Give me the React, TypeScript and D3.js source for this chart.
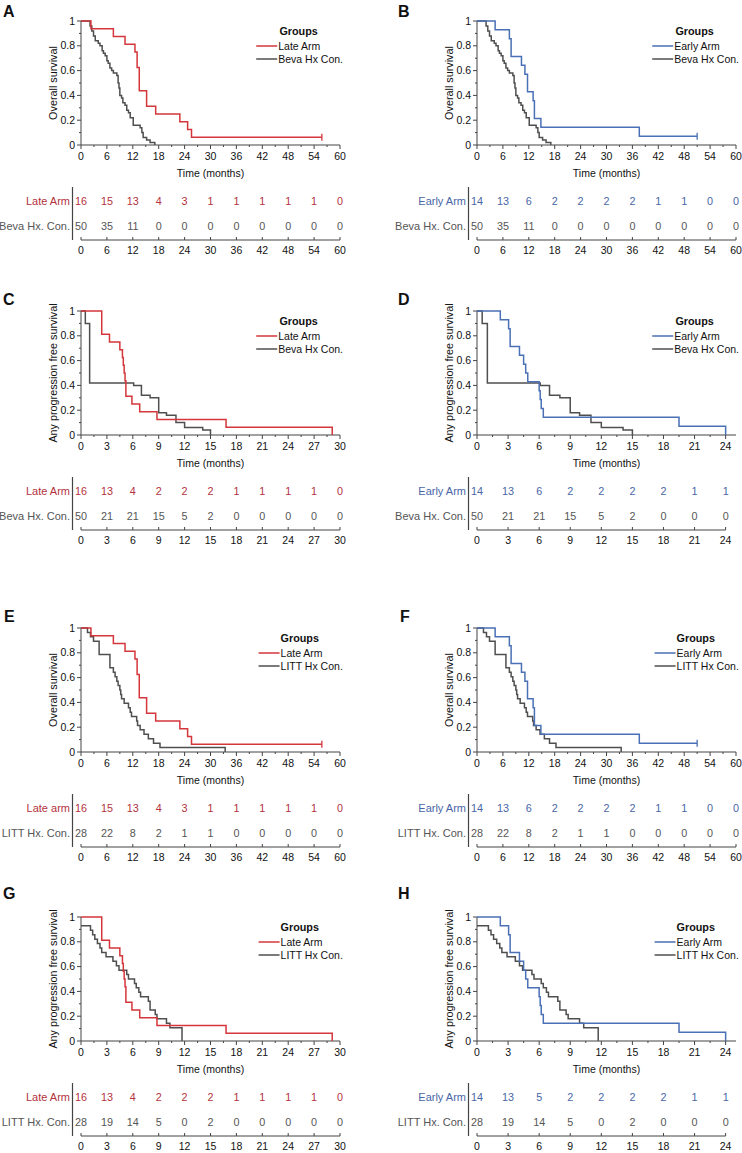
import React from 'react';
import * as d3 from 'd3';

// ---------- axis ticks ----------
const osTicks = [0, 6, 12, 18, 24, 30, 36, 42, 48, 54, 60];
const pfs30Ticks = [0, 3, 6, 9, 12, 15, 18, 21, 24, 27, 30];
const pfs24Ticks = [0, 3, 6, 9, 12, 15, 18, 21, 24];
const survTicks = [0, 0.2, 0.4, 0.6, 0.8, 1];

// ---------- Kaplan-Meier step points ----------
const lateOsTime = [0, 2.3, 7.5, 10.2, 12.5, 13.0, 13.5, 15.2, 17.3, 22.9, 24.7, 25.6, 55.8];
const lateOsSurv = [1, 0.9375, 0.875, 0.8125, 0.75, 0.625, 0.4375, 0.3125, 0.25, 0.1875, 0.125, 0.0625, 0.0625];

const earlyOsTime = [0, 4.2, 7.5, 7.9, 10.3, 11.1, 11.7, 13.0, 13.3, 14.8, 37.6, 51.0];
const earlyOsSurv = [1, 0.929, 0.857, 0.714, 0.643, 0.571, 0.429, 0.357, 0.214, 0.143, 0.071, 0.071];

const bevaOsTime = [0, 2.1, 2.5, 2.9, 3.3, 4.0, 4.4, 4.9, 5.2, 5.6, 6.0, 6.3, 6.7, 7.1, 7.5, 8.3, 8.6, 8.8, 9.0, 9.4, 9.7, 10.2, 10.6, 11.0, 11.4, 12.1, 13.7, 14.1, 14.4, 15.2, 16.0, 17.1];
const bevaOsSurv = [1, 0.96, 0.92, 0.88, 0.84, 0.82, 0.8, 0.76, 0.74, 0.72, 0.68, 0.66, 0.62, 0.6, 0.58, 0.56, 0.5, 0.46, 0.4, 0.38, 0.34, 0.32, 0.28, 0.26, 0.22, 0.16, 0.14, 0.1, 0.06, 0.04, 0.02, 0];

const littOsTime = [0, 1.5, 2.2, 2.9, 4.2, 6.7, 7.5, 7.9, 8.3, 8.6, 9.0, 9.2, 9.4, 10.0, 11.0, 11.4, 11.7, 12.9, 13.1, 13.7, 14.6, 15.6, 16.8, 18.3, 33.4];
const littOsSurv = [1, 0.964, 0.929, 0.893, 0.786, 0.679, 0.643, 0.607, 0.571, 0.536, 0.5, 0.464, 0.429, 0.393, 0.357, 0.321, 0.286, 0.25, 0.214, 0.179, 0.143, 0.107, 0.071, 0.036, 0];

const latePfsTime = [0, 2.4, 3.3, 4.5, 4.8, 4.9, 5.0, 5.1, 5.2, 5.9, 6.8, 8.8, 16.8, 29.1];
const latePfsSurv = [1, 0.8125, 0.75, 0.6875, 0.625, 0.5625, 0.5, 0.4375, 0.3125, 0.25, 0.1875, 0.125, 0.0625, 0];

const earlyPfsTime = [0, 2.25, 3.05, 3.2, 4.1, 4.5, 4.7, 4.9, 6.0, 6.1, 6.2, 6.4, 19.5, 24.0];
const earlyPfsSurv = [1, 0.929, 0.857, 0.714, 0.643, 0.571, 0.5, 0.429, 0.357, 0.286, 0.214, 0.143, 0.071, 0];

const bevaPfsTime = [0, 0.5, 1.0, 6.1, 7.0, 8.0, 9.0, 9.9, 11.0, 12.0, 14.1, 15.0];
const bevaPfsSurv = [1, 0.9, 0.42, 0.4, 0.32, 0.3, 0.18, 0.16, 0.1, 0.06, 0.04, 0];

const littPfsTime = [0, 1.1, 1.35, 1.6, 1.9, 2.2, 2.4, 2.9, 3.7, 4.1, 4.4, 5.3, 5.5, 6.2, 6.4, 6.7, 6.9, 7.8, 8.0, 8.6, 8.8, 9.9, 10.3, 11.7];
const littPfsSurv = [0.929, 0.893, 0.857, 0.821, 0.786, 0.75, 0.714, 0.679, 0.643, 0.607, 0.571, 0.536, 0.5, 0.464, 0.429, 0.393, 0.357, 0.321, 0.25, 0.214, 0.179, 0.143, 0.107, 0];

// ---------- numbers at risk ----------
const riskALate = [16, 15, 13, 4, 3, 1, 1, 1, 1, 1, 0];
const riskABeva = [50, 35, 11, 0, 0, 0, 0, 0, 0, 0, 0];
const riskBEarly = [14, 13, 6, 2, 2, 2, 2, 1, 1, 0, 0];
const riskBBeva = [50, 35, 11, 0, 0, 0, 0, 0, 0, 0, 0];
const riskCLate = [16, 13, 4, 2, 2, 2, 1, 1, 1, 1, 0];
const riskCBeva = [50, 21, 21, 15, 5, 2, 0, 0, 0, 0, 0];
const riskDEarly = [14, 13, 6, 2, 2, 2, 2, 1, 1];
const riskDBeva = [50, 21, 21, 15, 5, 2, 0, 0, 0];
const riskELate = [16, 15, 13, 4, 3, 1, 1, 1, 1, 1, 0];
const riskELitt = [28, 22, 8, 2, 1, 1, 0, 0, 0, 0, 0];
const riskFEarly = [14, 13, 6, 2, 2, 2, 2, 1, 1, 0, 0];
const riskFLitt = [28, 22, 8, 2, 1, 1, 0, 0, 0, 0, 0];
const riskGLate = [16, 13, 4, 2, 2, 2, 1, 1, 1, 1, 0];
const riskGLitt = [28, 19, 14, 5, 0, 2, 0, 0, 0, 0, 0];
const riskHEarly = [14, 13, 5, 2, 2, 2, 2, 1, 1];
const riskHLitt = [28, 19, 14, 5, 0, 2, 0, 0, 0];

// ---------- styling / layout ----------
const FONT = '"Liberation Sans", Arial, Helvetica, sans-serif';
const RED = '#d4363b';
const RED_TXT = '#b3323d';
const BLUE = '#4a70b6';
const BLUE_TXT = '#4866a6';
const GRAY = '#4f4f4f';
const GRAY_TXT = '#555555';
const AXIS = '#444444';

const colX = [81, 477];
const rowY = [21, 311, 628, 917];
const letterPos: Record<string, [number, number]> = {
  A: [3, 17], B: [398, 17], C: [3, 305], D: [398, 305],
  E: [4, 622], F: [400, 622], G: [3, 899], H: [398, 899],
};
const PW = 259;
const PH = 124;

type Curve = {
  legend: string; riskLabel: string; color: string; txt: string;
  time: number[]; surv: number[]; censor: boolean; risk: number[];
};
type PanelSpec = {
  id: string; col: number; row: number; ylabel: string; xMax: number;
  ticks: number[]; curves: Curve[];
};

const late = (time: number[], surv: number[], censor: boolean, risk: number[], riskLabel = 'Late Arm'): Curve =>
  ({ legend: 'Late Arm', riskLabel, color: RED, txt: RED_TXT, time, surv, censor, risk });
const early = (time: number[], surv: number[], censor: boolean, risk: number[]): Curve =>
  ({ legend: 'Early Arm', riskLabel: 'Early Arm', color: BLUE, txt: BLUE_TXT, time, surv, censor, risk });
const beva = (time: number[], surv: number[], risk: number[]): Curve =>
  ({ legend: 'Beva Hx Con.', riskLabel: 'Beva Hx. Con.', color: GRAY, txt: GRAY_TXT, time, surv, censor: false, risk });
const litt = (time: number[], surv: number[], risk: number[]): Curve =>
  ({ legend: 'LITT Hx Con.', riskLabel: 'LITT Hx. Con.', color: GRAY, txt: GRAY_TXT, time, surv, censor: false, risk });

const OS = 'Overall survival';
const PFS = 'Any progression free survival';

const panels: PanelSpec[] = [
  { id: 'A', col: 0, row: 0, ylabel: OS, xMax: 60, ticks: osTicks,
    curves: [late(lateOsTime, lateOsSurv, true, riskALate), beva(bevaOsTime, bevaOsSurv, riskABeva)] },
  { id: 'B', col: 1, row: 0, ylabel: OS, xMax: 60, ticks: osTicks,
    curves: [early(earlyOsTime, earlyOsSurv, true, riskBEarly), beva(bevaOsTime, bevaOsSurv, riskBBeva)] },
  { id: 'C', col: 0, row: 1, ylabel: PFS, xMax: 30, ticks: pfs30Ticks,
    curves: [late(latePfsTime, latePfsSurv, false, riskCLate), beva(bevaPfsTime, bevaPfsSurv, riskCBeva)] },
  { id: 'D', col: 1, row: 1, ylabel: PFS, xMax: 25, ticks: pfs24Ticks,
    curves: [early(earlyPfsTime, earlyPfsSurv, false, riskDEarly), beva(bevaPfsTime, bevaPfsSurv, riskDBeva)] },
  { id: 'E', col: 0, row: 2, ylabel: OS, xMax: 60, ticks: osTicks,
    curves: [late(lateOsTime, lateOsSurv, true, riskELate, 'Late arm'), litt(littOsTime, littOsSurv, riskELitt)] },
  { id: 'F', col: 1, row: 2, ylabel: OS, xMax: 60, ticks: osTicks,
    curves: [early(earlyOsTime, earlyOsSurv, true, riskFEarly), litt(littOsTime, littOsSurv, riskFLitt)] },
  { id: 'G', col: 0, row: 3, ylabel: PFS, xMax: 30, ticks: pfs30Ticks,
    curves: [late(latePfsTime, latePfsSurv, false, riskGLate), litt(littPfsTime, littPfsSurv, riskGLitt)] },
  { id: 'H', col: 1, row: 3, ylabel: PFS, xMax: 25, ticks: pfs24Ticks,
    curves: [early(earlyPfsTime, earlyPfsSurv, false, riskHEarly), litt(littPfsTime, littPfsSurv, riskHLitt)] },
];

let measureCtx: CanvasRenderingContext2D | null = null;
function textWidth(s: string, size: number, bold = false): number {
  if (!measureCtx && typeof document !== 'undefined') {
    measureCtx = document.createElement('canvas').getContext('2d');
  }
  if (!measureCtx) return s.length * size * 0.55;
  measureCtx.font = `${bold ? 'bold ' : ''}${size}px "Liberation Sans", Arial, sans-serif`;
  return measureCtx.measureText(s).width;
}

const fmtY = (v: number) => String(+v.toFixed(1));

function Panel({ p }: { p: PanelSpec }) {
  const x0 = colX[p.col];
  const y1 = rowY[p.row];
  const yb = y1 + PH;
  const x = d3.scaleLinear().domain([0, p.xMax]).range([x0, x0 + PW]);
  const y = d3.scaleLinear().domain([0, 1]).range([yb, y1]);
  const line = d3.line<[number, number]>().x(d => x(d[0])).y(d => y(d[1])).curve(d3.curveStepAfter);

  const lastTick = p.ticks[p.ticks.length - 1];
  const step = p.ticks[1] - p.ticks[0];
  const minorX = d3.range(p.ticks.length - 1).map(i => p.ticks[i] + step / 2);
  const minorY = d3.range(1, 10, 2).map(i => i / 10);

  const [lx, ly] = letterPos[p.id];
  const legendFs = 10.5;
  const maxW = Math.max(...p.curves.map(c => textWidth(c.legend, legendFs)));
  const legRight = x0 + 262;
  const legTextX = legRight - maxW;
  const legLineX1 = legTextX - 1;
  const legLineX0 = legLineX1 - 21;
  const groupsX = (legLineX0 + legRight) / 2 - 1;

  const riskRows = [y1 + 180, y1 + 205];
  const riskAxisY = y1 + 219;

  return (
    <g fontFamily={FONT}>
      <text x={lx} y={ly} fontSize={16} fontWeight="bold" fill="#111">{p.id}</text>

      {/* Y axis */}
      <line x1={x0} x2={x0} y1={y(0)} y2={y(1)} stroke={AXIS} strokeWidth={1} />
      {survTicks.map(v => (
        <g key={'yt' + v}>
          <line x1={x0 - 4} x2={x0} y1={y(v)} y2={y(v)} stroke={AXIS} strokeWidth={1} />
          <text x={x0 - 6} y={y(v)} dy="0.35em" textAnchor="end" fontSize={10.5} fill="#111">{fmtY(v)}</text>
        </g>
      ))}
      {minorY.map(v => (
        <line key={'ym' + v} x1={x0 - 2} x2={x0} y1={y(v)} y2={y(v)} stroke={AXIS} strokeWidth={1} />
      ))}
      <text transform={`translate(${x0 - 28},${(y1 + yb) / 2}) rotate(-90)`} textAnchor="middle"
        dy="0.35em" fontSize={10.8} fill="#111">{p.ylabel}</text>

      {/* X axis */}
      <line x1={x(0)} x2={x(p.xMax)} y1={yb} y2={yb} stroke={AXIS} strokeWidth={1} />
      {p.ticks.map(v => (
        <g key={'xt' + v}>
          <line x1={x(v)} x2={x(v)} y1={yb} y2={yb + 4} stroke={AXIS} strokeWidth={1} />
          <text x={x(v)} y={yb + 11} dy="0.35em" textAnchor="middle" fontSize={10.5} fill="#111">{v}</text>
        </g>
      ))}
      {minorX.map(v => (
        <line key={'xm' + v} x1={x(v)} x2={x(v)} y1={yb} y2={yb + 2} stroke={AXIS} strokeWidth={1} />
      ))}
      <text x={(x(0) + x(p.xMax)) / 2} y={y1 + 152} dy="0.35em" textAnchor="middle" fontSize={10.5} fill="#111">Time (months)</text>

      {/* curves: control first, treatment on top */}
      {[...p.curves].reverse().map((c, i) => {
        const pts: [number, number][] = c.time.map((t, k) => [t, c.surv[k]]);
        const last = pts[pts.length - 1];
        return (
          <g key={'c' + i}>
            <path d={line(pts) || ''} fill="none" stroke={c.color} strokeWidth={1.5} />
            {c.censor && (
              <line x1={x(last[0])} x2={x(last[0])} y1={y(last[1]) - 3.5} y2={y(last[1]) + 3.5}
                stroke={c.color} strokeWidth={1.3} />
            )}
          </g>
        );
      })}

      {/* legend */}
      <text x={groupsX} y={y1 + 10} dy="0.35em" textAnchor="middle" fontSize={10.8} fontWeight="bold" fill="#111">Groups</text>
      {p.curves.map((c, i) => (
        <g key={'lg' + i}>
          <line x1={legLineX0} x2={legLineX1} y1={y1 + 25 + i * 13} y2={y1 + 25 + i * 13} stroke={c.color} strokeWidth={1.5} />
          <text x={legTextX} y={y1 + 25 + i * 13} dy="0.35em" fontSize={legendFs} fill="#111">{c.legend}</text>
        </g>
      ))}

      {/* risk table */}
      <line x1={x0 - 8.5} x2={x0 - 8.5} y1={y1 + 166} y2={y1 + 219} stroke={AXIS} strokeWidth={1.2} />
      {p.curves.map((c, i) => (
        <g key={'rk' + i}>
          <text x={x0 - 11} y={riskRows[i]} dy="0.35em" textAnchor="end" fontSize={11} fill={c.txt}>{c.riskLabel}</text>
          {c.risk.map((n, k) => (
            <text key={k} x={x(p.ticks[k])} y={riskRows[i]} dy="0.35em" textAnchor="middle" fontSize={10.8} fill={c.txt}>{n}</text>
          ))}
        </g>
      ))}
      <line x1={x(0)} x2={x(lastTick)} y1={riskAxisY} y2={riskAxisY} stroke={AXIS} strokeWidth={1} />
      {p.ticks.map(v => (
        <g key={'rt' + v}>
          <line x1={x(v)} x2={x(v)} y1={riskAxisY - 3} y2={riskAxisY} stroke={AXIS} strokeWidth={1} />
          <text x={x(v)} y={y1 + 229} dy="0.35em" textAnchor="middle" fontSize={10.5} fill="#111">{v}</text>
        </g>
      ))}
    </g>
  );
}

export default function App() {
  if (typeof document !== 'undefined') document.body.style.margin = '0';
  return (
    <svg width={742} height={1153} viewBox="0 0 742 1153"
      style={{ position: 'absolute', left: 0, top: 0, background: '#ffffff' }}>
      <rect x={0} y={0} width={742} height={1153} fill="#ffffff" />
      {panels.map(p => <Panel key={p.id} p={p} />)}
    </svg>
  );
}
